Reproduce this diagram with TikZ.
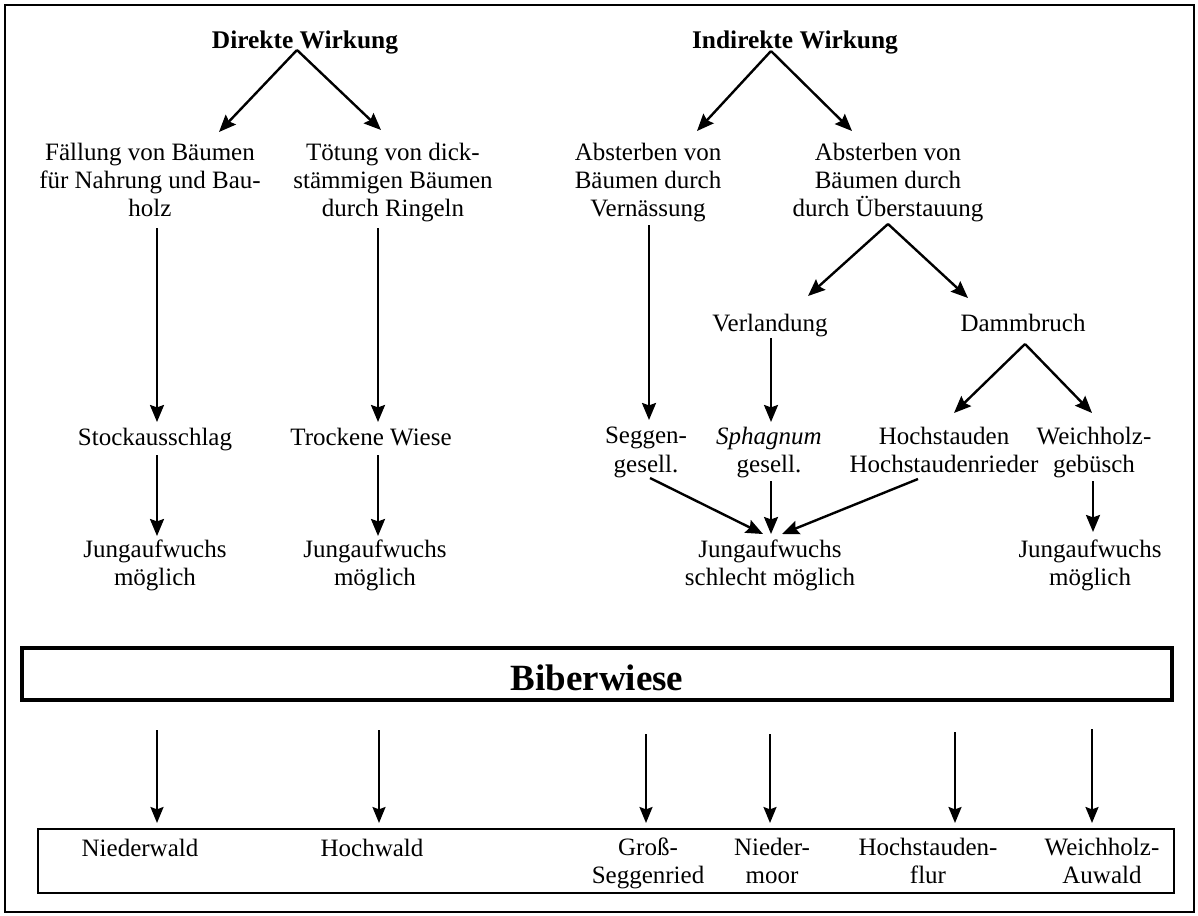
\documentclass[tikz,border=0pt]{standalone}
\usepackage{fontspec}
\setmainfont{Liberation Serif}
\usetikzlibrary{arrows.meta}
\begin{document}
\begin{tikzpicture}[x=0.5pt,y=-0.5pt,
  lbl/.style={inner sep=0pt, align=center, font=\fontsize{12.5}{14.2}\selectfont, yshift=-1.5pt,
              execute at begin node=\strut, execute at end node=\strut},
  hd/.style={lbl, font=\fontsize{12.7}{14}\selectfont\bfseries},
  arr/.style={line width=1.2pt, -{Stealth[length=8.5pt,width=7pt,inset=1.2pt]}},
  arrb/.style={line width=1.1pt, -{Stealth[length=8pt,width=6.5pt,inset=1.2pt]}}]
\useasboundingbox (0,0) rectangle (1198,915);
\draw[line width=1.1pt] (5,5) rectangle (1194,912);

% headings
\node[hd] (dw) at (305,40) {Direkte Wirkung};
\node[hd] (iw) at (795,40) {Indirekte Wirkung};

% level 1
\node[lbl] (f) at (150,181) {Fällung von Bäumen\\für Nahrung und Bau-\\holz};
\node[lbl] (t) at (393,181) {Tötung von dick-\\stämmigen Bäumen\\durch Ringeln};
\node[lbl] (av) at (648,181) {Absterben von\\Bäumen durch\\Vernässung};
\node[lbl] (au) at (888,181) {Absterben von\\Bäumen durch\\durch Überstauung};

% level 2
\node[lbl] (vl) at (770,323) {Verlandung};
\node[lbl] (db) at (1023,323) {Dammbruch};
\node[lbl] (sa) at (155,437) {Stockausschlag};
\node[lbl] (tw) at (371,437) {Trockene Wiese};
\node[lbl] (sg) at (646,451) {Seggen-\\gesell.};
\node[lbl] (sp) at (769,451) {\textit{Sphagnum}\\gesell.};
\node[lbl] (hs) at (944,451) {Hochstauden\\Hochstaudenrieder};
\node[lbl] (wh) at (1094,451) {Weichholz-\\gebüsch};

% level 3
\node[lbl] (j1) at (155,564) {Jungaufwuchs\\möglich};
\node[lbl] (j2) at (375,564) {Jungaufwuchs\\möglich};
\node[lbl] (j3) at (770,564) {Jungaufwuchs\\schlecht möglich};
\node[lbl] (j4) at (1090,564) {Jungaufwuchs\\möglich};

% coordinates for arrow ends
\coordinate (dA) at (297,50);
\coordinate (dL) at (219,132);
\coordinate (dR) at (381,130);
\coordinate (iA) at (771,51);
\coordinate (iL) at (697,131);
\coordinate (iR) at (852,131);
\coordinate (uA) at (888,224);
\coordinate (uL) at (808,296);
\coordinate (uR) at (968,298);
\coordinate (bA) at (1025,344);
\coordinate (bL) at (954,413);
\coordinate (bR) at (1092,413);

\draw[arr] (dA) -- (dL);
\draw[arr] (dA) -- (dR);
\draw[arr] (iA) -- (iL);
\draw[arr] (iA) -- (iR);
\draw[arr] (uA) -- (uL);
\draw[arr] (uA) -- (uR);
\draw[arr] (bA) -- (bL);
\draw[arr] (bA) -- (bR);

\coordinate (f1) at (157,228);  \coordinate (f2) at (157,422);
\coordinate (t1) at (378,228);  \coordinate (t2) at (378,422);
\coordinate (v1) at (649,225);  \coordinate (v2) at (649,420);
\coordinate (l1) at (771,338);  \coordinate (l2) at (771,422);
\draw[arr] (f1) -- (f2);
\draw[arr] (t1) -- (t2);
\draw[arr] (v1) -- (v2);
\draw[arr] (l1) -- (l2);

\coordinate (s1) at (157,455);  \coordinate (s2) at (157,536);
\coordinate (w1) at (378,455);  \coordinate (w2) at (378,536);
\draw[arr] (s1) -- (s2);
\draw[arr] (w1) -- (w2);

\coordinate (g1) at (650,478);  \coordinate (jL) at (763,534);
\coordinate (p1) at (771,481);  \coordinate (jM) at (771,534);
\coordinate (h1) at (918,479);  \coordinate (jR) at (782,534);
\coordinate (k1) at (1093,481); \coordinate (k2) at (1093,532);
\draw[arr] (g1) -- (jL);
\draw[arr] (p1) -- (jM);
\draw[arr] (h1) -- (jR);
\draw[arr] (k1) -- (k2);

% Biberwiese box
\node[draw, line width=1.8pt, minimum width=575pt, minimum height=26pt, inner sep=0pt] (bw) at (597,674) {};
\node[inner sep=0pt, font=\fontsize{18.5}{20}\selectfont\bfseries] (bwt) at (597,678) {Biberwiese};

% bottom box
\node[draw, line width=1.1pt, minimum width=568pt, minimum height=32pt, inner sep=0pt] (bb) at (606,861) {};

\node[lbl] (o1) at (140,848) {Niederwald};
\node[lbl] (o2) at (372,848) {Hochwald};
\node[lbl] (o3) at (648,862) {Groß-\\Seggenried};
\node[lbl] (o4) at (772,862) {Nieder-\\moor};
\node[lbl] (o5) at (928,862) {Hochstauden-\\flur};
\node[lbl] (o6) at (1102,862) {Weichholz-\\Auwald};

\foreach \i/\x/\y in {1/157/730, 2/379/730, 3/646/734, 4/770/734, 5/955/732, 6/1092/729} {
  \coordinate (ba\i) at (\x,\y);
  \coordinate (bb\i) at (\x,823);
  \draw[arrb] (ba\i) -- (bb\i);
}
\end{tikzpicture}
\end{document}
